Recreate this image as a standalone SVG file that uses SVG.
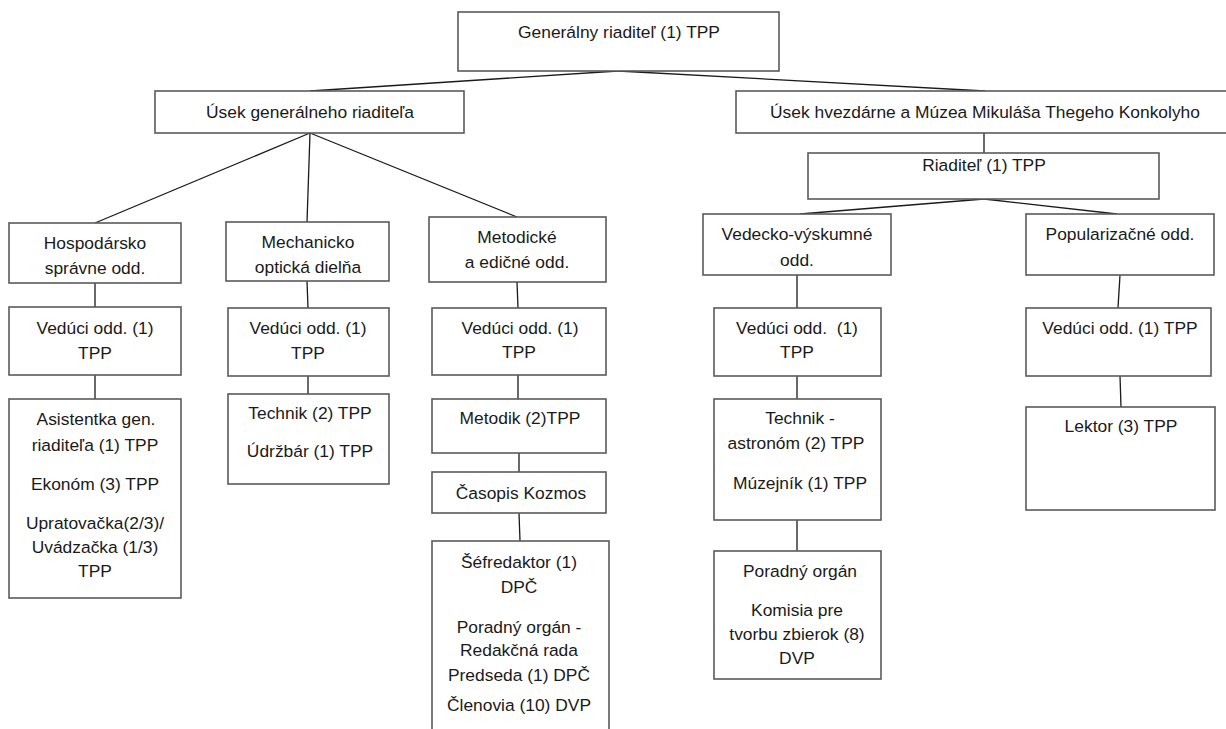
<svg xmlns="http://www.w3.org/2000/svg" width="1226" height="729" viewBox="0 0 1226 729">
<style>
.box{fill:#fff;stroke:#5a5a5a;stroke-width:1.6}
.ln{stroke:#1a1a1a;stroke-width:1.3;fill:none}
text{font-family:"Liberation Sans",Arial,sans-serif;font-size:17.4px;fill:#1a1a1a;text-anchor:middle}
</style>
<rect width="1226" height="729" fill="#fff"/>
<g id="connectors">
<line class="ln" x1="618" y1="71" x2="310" y2="91"/>
<line class="ln" x1="618" y1="71" x2="985" y2="91"/>
<line class="ln" x1="310" y1="133" x2="95" y2="223"/>
<line class="ln" x1="310" y1="133" x2="307" y2="222"/>
<line class="ln" x1="310" y1="133" x2="517" y2="217"/>
<line class="ln" x1="984" y1="133" x2="984" y2="153"/>
<line class="ln" x1="984" y1="199" x2="800" y2="214"/>
<line class="ln" x1="984" y1="199" x2="1117" y2="214"/>
<line class="ln" x1="95" y1="283" x2="95" y2="307"/>
<line class="ln" x1="95" y1="375" x2="95" y2="399"/>
<line class="ln" x1="307" y1="281" x2="308" y2="308"/>
<line class="ln" x1="308" y1="376" x2="308" y2="394"/>
<line class="ln" x1="517" y1="282" x2="518" y2="308"/>
<line class="ln" x1="518" y1="375" x2="518" y2="399"/>
<line class="ln" x1="519" y1="453" x2="519" y2="472"/>
<line class="ln" x1="519" y1="513" x2="520" y2="541"/>
<line class="ln" x1="797" y1="275" x2="797" y2="308"/>
<line class="ln" x1="797" y1="376" x2="797" y2="399"/>
<line class="ln" x1="797" y1="520" x2="797" y2="551"/>
<line class="ln" x1="1120" y1="275" x2="1118" y2="308"/>
<line class="ln" x1="1120" y1="376" x2="1121" y2="407"/>
</g>
<g id="n_gen"><rect class="box" x="458" y="12" width="321" height="59"/><text x="619" y="38">Generálny riaditeľ (1) TPP</text></g>
<g id="n_usek_gen"><rect class="box" x="155" y="91" width="309" height="42"/><text x="310" y="118">Úsek generálneho riaditeľa</text></g>
<g id="n_usek_hvez"><rect class="box" x="736" y="91" width="498" height="42"/><text x="985" y="118">Úsek hvezdárne a Múzea Mikuláša Thegeho Konkolyho</text></g>
<g id="n_riaditel"><rect class="box" x="808" y="153" width="351" height="46"/><text x="984" y="171">Riaditeľ (1) TPP</text></g>
<g id="n_hosp"><rect class="box" x="9" y="223" width="172" height="60"/><text x="95" y="249">Hospodársko</text><text x="95" y="274">správne odd.</text></g>
<g id="n_mech"><rect class="box" x="226" y="222" width="163" height="59"/><text x="308" y="248">Mechanicko</text><text x="308" y="273">optická dielňa</text></g>
<g id="n_metod"><rect class="box" x="429" y="217" width="177" height="65"/><text x="517" y="243">Metodické</text><text x="517" y="268">a edičné odd.</text></g>
<g id="n_vedecko"><rect class="box" x="703" y="214" width="188" height="61"/><text x="797" y="240">Vedecko-výskumné</text><text x="797" y="266">odd.</text></g>
<g id="n_popul"><rect class="box" x="1026" y="214" width="188" height="61"/><text x="1120" y="240">Popularizačné odd.</text></g>
<g id="n_ved1"><rect class="box" x="9" y="307" width="172" height="68"/><text x="95" y="334">Vedúci odd. (1)</text><text x="95" y="359">TPP</text></g>
<g id="n_ved2"><rect class="box" x="228" y="308" width="161" height="68"/><text x="308" y="334">Vedúci odd. (1)</text><text x="308" y="359">TPP</text></g>
<g id="n_ved3"><rect class="box" x="432" y="308" width="174" height="67"/><text x="520" y="334">Vedúci odd. (1)</text><text x="519" y="358">TPP</text></g>
<g id="n_ved4"><rect class="box" x="714" y="308" width="167" height="68"/><text x="797" y="334" xml:space="preserve">Vedúci odd.  (1)</text><text x="797" y="358">TPP</text></g>
<g id="n_ved5"><rect class="box" x="1026" y="308" width="185" height="68"/><text x="1120" y="334">Vedúci odd. (1) TPP</text></g>
<g id="n_asist"><rect class="box" x="9" y="399" width="172" height="199"/><text x="96" y="425">Asistentka gen.</text><text x="95" y="451">riaditeľa (1) TPP</text><text x="95" y="490">Ekonóm (3) TPP</text><text x="95" y="529">Upratovačka(2/3)/</text><text x="95" y="553">Uvádzačka (1/3)</text><text x="95" y="577">TPP</text></g>
<g id="n_tech2"><rect class="box" x="228" y="394" width="161" height="90"/><text x="310" y="419">Technik (2) TPP</text><text x="310" y="457">Údržbár (1) TPP</text></g>
<g id="n_metodik"><rect class="box" x="432" y="399" width="174" height="54"/><text x="520" y="424">Metodik (2)TPP</text></g>
<g id="n_casopis"><rect class="box" x="432" y="472" width="174" height="41"/><text x="521" y="499">Časopis Kozmos</text></g>
<g id="n_sefred"><rect class="box" x="432" y="541" width="177" height="200"/><text x="519" y="568">Šéfredaktor (1)</text><text x="519" y="593">DPČ</text><text x="519" y="633">Poradný orgán -</text><text x="519" y="656">Redakčná rada</text><text x="519" y="681">Predseda (1) DPČ</text><text x="519" y="711">Členovia (10) DVP</text></g>
<g id="n_techastro"><rect class="box" x="714" y="399" width="167" height="121"/><text x="800" y="424">Technik -</text><text x="796" y="449">astronóm (2) TPP</text><text x="800" y="489">Múzejník (1) TPP</text></g>
<g id="n_lektor"><rect class="box" x="1026" y="407" width="189" height="103"/><text x="1121" y="432">Lektor (3) TPP</text></g>
<g id="n_poradny"><rect class="box" x="714" y="551" width="167" height="128"/><text x="800" y="577">Poradný orgán</text><text x="797" y="616">Komisia pre</text><text x="797" y="640">tvorbu zbierok (8)</text><text x="797" y="664">DVP</text></g>
</svg>
